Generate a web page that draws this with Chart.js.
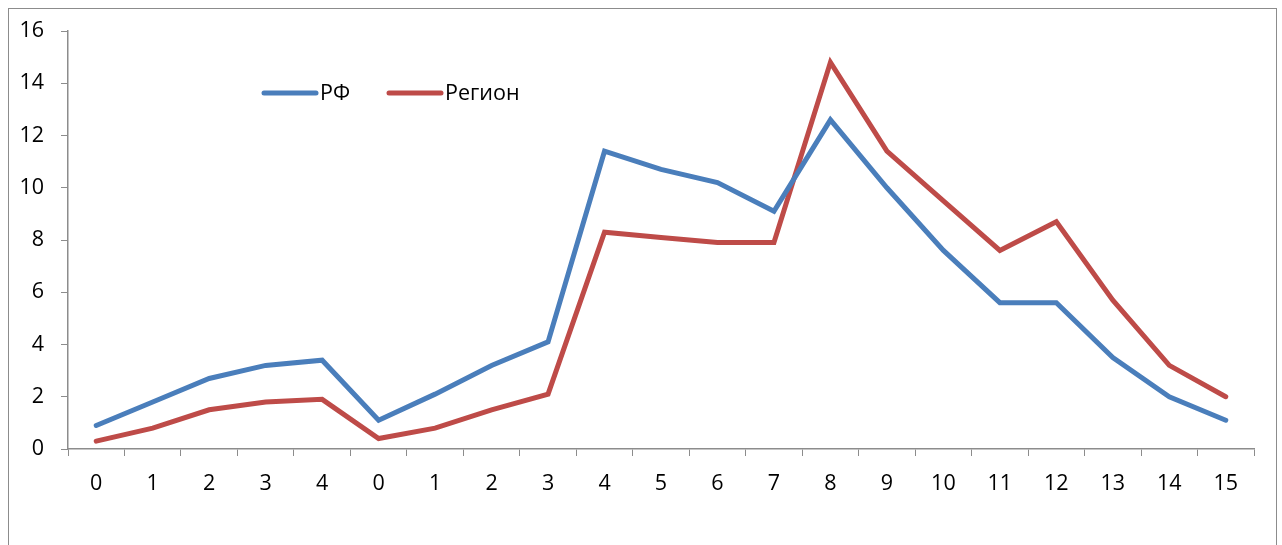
<!DOCTYPE html>
<html>
<head>
<meta charset="utf-8">
<script src="https://cdn.jsdelivr.net/npm/chart.js@4.4.0/dist/chart.umd.min.js"></script>
<style>
    html, body { margin: 0; padding: 0; background: #fff; overflow: hidden; }
    #frame {
        position: absolute; left: 8px; top: 8px; width: 1269px; height: 600px;
        border: 1px solid #8c8c8c; box-sizing: border-box;
    }
    #wrap { position: absolute; left: 0; top: 0; width: 1282px; height: 545px; }
</style>
</head>
<body>
<div id="frame"></div>
<div id="wrap"><canvas id="lineChart"></canvas></div>
<script>
// Chart data
const categories = ['0', '1', '2', '3', '4', '0', '1', '2', '3', '4', '5', '6', '7', '8', '9', '10', '11', '12', '13', '14', '15'];
const rfValues = [0.9, 1.8, 2.7, 3.2, 3.4, 1.1, 2.1, 3.2, 4.1, 11.4, 10.7, 10.2, 9.1, 12.6, 10.0, 7.6, 5.6, 5.6, 3.5, 2.0, 1.1];
const regionValues = [0.3, 0.8, 1.5, 1.8, 1.9, 0.4, 0.8, 1.5, 2.1, 8.3, 8.1, 7.9, 7.9, 14.8, 11.4, 9.5, 7.6, 8.7, 5.7, 3.2, 2.0];
const yTicks = [0, 2, 4, 6, 8, 10, 12, 14, 16];

const FONT = "'Open Sans', 'Noto Sans', sans-serif";
const AXIS_COLOR = '#8c8c8c';

// Legend drawn inside the plot area, like the original
const innerLegend = {
    id: 'innerLegend',
    afterDraw(chart) {
        const ctx = chart.ctx;
        const items = [
            { x: 264, label: 'РФ', ds: chart.data.datasets[0] },
            { x: 389, label: 'Регион', ds: chart.data.datasets[1] }
        ];
        ctx.save();
        ctx.font = '21.5px ' + FONT;
        ctx.textBaseline = 'middle';
        items.forEach(function(item) {
            ctx.strokeStyle = item.ds.borderColor;
            ctx.lineWidth = 5;
            ctx.lineCap = 'round';
            ctx.beginPath();
            ctx.moveTo(item.x, 93);
            ctx.lineTo(item.x + 52, 93);
            ctx.stroke();
            ctx.fillStyle = '#000';
            ctx.fillText(item.label, item.x + 56, 94);
        });
        ctx.restore();
    }
};

document.addEventListener('DOMContentLoaded', function() {
    const ctx = document.getElementById('lineChart');
    new Chart(ctx, {
        type: 'line',
        data: {
            labels: categories,
            datasets: [{
                label: 'РФ',
                data: rfValues,
                borderColor: '#4a7ebb',
                borderWidth: 5,
                pointRadius: 0,
                tension: 0,
                borderCapStyle: 'round'
            },
            {
                label: 'Регион',
                data: regionValues,
                borderColor: '#be4b48',
                borderWidth: 5,
                pointRadius: 0,
                tension: 0,
                borderCapStyle: 'round'
            }]
        },
        options: {
            responsive: true,
            maintainAspectRatio: false,
            animation: false,
            layout: { padding: { left: 0, top: 31, right: 28, bottom: 0 } },
            scales: {
                y: {
                    min: 0,
                    max: 16,
                    afterBuildTicks: function(axis) {
                        axis.ticks = yTicks.map(function(v) { return { value: v }; });
                    },
                    afterFit: function(axis) { axis.width = 68; },
                    grid: { drawOnChartArea: false, drawTicks: true, tickLength: 7, color: AXIS_COLOR },
                    border: { color: AXIS_COLOR, width: 1.5 },
                    ticks: { color: '#000', font: { family: FONT, size: 21.5 }, padding: 17 }
                },
                x: {
                    offset: true,
                    afterFit: function(axis) { axis.height = 96; },
                    grid: { offset: true, drawOnChartArea: false, drawTicks: true, tickLength: 7, color: AXIS_COLOR },
                    border: { color: AXIS_COLOR, width: 1.5 },
                    ticks: { color: '#000', font: { family: FONT, size: 21.5 }, padding: 15, maxRotation: 0, autoSkip: false }
                }
            },
            plugins: {
                legend: { display: false },
                tooltip: { enabled: false }
            }
        },
        plugins: [innerLegend]
    });
});
</script>
</body>
</html>
